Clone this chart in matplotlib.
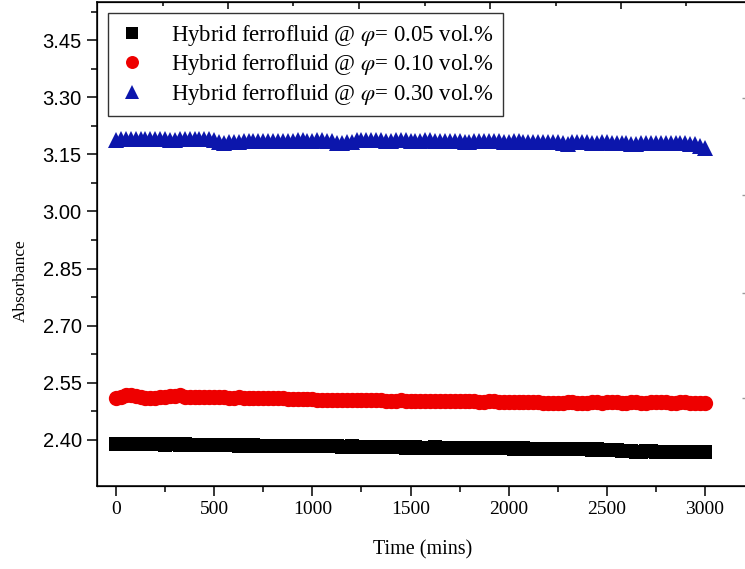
import matplotlib
matplotlib.use("Agg")
import matplotlib.pyplot as plt
import numpy as np

# time axis (mins), one reading every 25 mins
time_mins = np.arange(0, 3001, 25)

absorb_005 = [2.389, 2.389, 2.388, 2.389, 2.389, 2.388, 2.388, 2.389, 2.388, 2.388, 2.387,
              2.388, 2.388, 2.387, 2.388, 2.387, 2.387, 2.386, 2.387, 2.386, 2.387,
              2.386, 2.386, 2.386, 2.386, 2.385, 2.386, 2.385, 2.386, 2.385, 2.385,
              2.385, 2.384, 2.384, 2.385, 2.385, 2.384, 2.384, 2.384, 2.383, 2.384,
              2.383, 2.383, 2.384, 2.383, 2.383, 2.382, 2.382, 2.383, 2.382, 2.382,
              2.382, 2.382, 2.381, 2.381, 2.382, 2.381, 2.381, 2.381, 2.380, 2.381,
              2.381, 2.380, 2.380, 2.380, 2.381, 2.380, 2.379, 2.380, 2.379, 2.379,
              2.380, 2.379, 2.379, 2.378, 2.379, 2.379, 2.378, 2.378, 2.378, 2.378,
              2.377, 2.377, 2.378, 2.377, 2.377, 2.376, 2.376, 2.377, 2.376, 2.376,
              2.376, 2.375, 2.375, 2.376, 2.375, 2.375, 2.374, 2.375, 2.374, 2.374,
              2.374, 2.373, 2.372, 2.371, 2.370, 2.369, 2.369, 2.370, 2.370, 2.369,
              2.369, 2.369, 2.368, 2.369, 2.368, 2.368, 2.369, 2.368, 2.368, 2.368]

absorb_010 = [2.509, 2.513, 2.517, 2.518, 2.516, 2.514, 2.510, 2.510, 2.511, 2.512, 2.513,
              2.515, 2.516, 2.517, 2.514, 2.513, 2.512, 2.513, 2.513, 2.512, 2.512,
              2.512, 2.512, 2.511, 2.511, 2.512, 2.511, 2.511, 2.511, 2.511, 2.510,
              2.510, 2.511, 2.510, 2.509, 2.508, 2.508, 2.508, 2.507, 2.507, 2.507,
              2.506, 2.506, 2.505, 2.505, 2.506, 2.505, 2.505, 2.505, 2.504, 2.504,
              2.504, 2.505, 2.504, 2.504, 2.503, 2.503, 2.503, 2.504, 2.503, 2.503,
              2.503, 2.503, 2.502, 2.502, 2.503, 2.502, 2.502, 2.502, 2.502, 2.501,
              2.501, 2.501, 2.501, 2.500, 2.500, 2.501, 2.501, 2.500, 2.500, 2.500,
              2.499, 2.499, 2.500, 2.500, 2.499, 2.499, 2.498, 2.498, 2.498, 2.498,
              2.498, 2.499, 2.499, 2.498, 2.498, 2.498, 2.499, 2.499, 2.498, 2.499,
              2.499, 2.499, 2.498, 2.498, 2.499, 2.499, 2.498, 2.498, 2.499, 2.499,
              2.499, 2.499, 2.498, 2.498, 2.499, 2.499, 2.498, 2.498, 2.498, 2.498]

absorb_030 = [3.188, 3.189, 3.190, 3.191, 3.191, 3.190, 3.190, 3.191, 3.191, 3.190, 3.189,
              3.188, 3.188, 3.190, 3.190, 3.191, 3.191, 3.189, 3.189, 3.189, 3.188,
              3.182, 3.181, 3.182, 3.182, 3.183, 3.184, 3.185, 3.185, 3.186, 3.186,
              3.185, 3.185, 3.186, 3.186, 3.185, 3.185, 3.187, 3.187, 3.186, 3.186,
              3.187, 3.187, 3.186, 3.186, 3.181, 3.181, 3.182, 3.182, 3.187, 3.187,
              3.188, 3.188, 3.187, 3.187, 3.186, 3.186, 3.187, 3.187, 3.187, 3.186,
              3.186, 3.186, 3.187, 3.187, 3.186, 3.186, 3.185, 3.185, 3.184, 3.184,
              3.183, 3.183, 3.184, 3.184, 3.185, 3.185, 3.184, 3.184, 3.183, 3.183,
              3.184, 3.184, 3.183, 3.183, 3.182, 3.182, 3.183, 3.183, 3.183, 3.183,
              3.179, 3.178, 3.183, 3.183, 3.182, 3.182, 3.181, 3.181, 3.182, 3.182,
              3.181, 3.181, 3.180, 3.180, 3.178, 3.178, 3.180, 3.180, 3.181, 3.181,
              3.179, 3.179, 3.180, 3.180, 3.179, 3.179, 3.177, 3.177, 3.172, 3.167]

labels = ["Hybrid ferrofluid @ $\\varphi$= 0.05 vol.%",
          "Hybrid ferrofluid @ $\\varphi$= 0.10 vol.%",
          "Hybrid ferrofluid @ $\\varphi$= 0.30 vol.%"]

# odd tick marks along the top and right frame of the original figure
top_major = [570, 1238, 1905, 2572]
top_minor = [239, 901, 1574, 2241, 2903]
right_ticks = [3.298, 3.043, 2.786, 2.510]

plt.rcParams["font.family"] = "Liberation Serif"
plt.rcParams["mathtext.fontset"] = "stix"

fig = plt.figure(figsize=(7.45, 5.69), dpi=100)
ax = fig.add_axes([97 / 745, 83 / 569, 651 / 745, 484 / 569])

ax.plot(time_mins, absorb_005, ls="none", marker="s", ms=9.5, color="black", mew=0, label=labels[0])
ax.plot(time_mins, absorb_010, ls="none", marker="o", ms=11, color="#ee0000", mew=0, label=labels[1])
ax.plot(time_mins, absorb_030, ls="none", marker="^", ms=12, color="#0c16ac", mew=0, label=labels[2])

ax.set_xlim(-97, 3219)
ax.set_ylim(2.279, 3.55)
ax.set_xticks(np.arange(0, 3001, 500))
ax.set_xticks(np.arange(250, 3001, 500), minor=True)
ax.set_yticks(np.arange(2.40, 3.46, 0.15))
ax.set_yticks(np.arange(2.475, 3.55, 0.15), minor=True)
ax.set_yticklabels(["%.2f" % v for v in np.arange(2.40, 3.46, 0.15)],
                   family="Liberation Sans", fontsize=14.5)
ax.tick_params(axis="x", labelsize=14)
ax.tick_params(which="major", length=7, width=1.1, direction="out", pad=4)
ax.tick_params(which="minor", length=4, width=1.1, direction="out")
ax.tick_params(top=False, right=False)
for s in ax.spines.values():
    s.set_linewidth(1.1)

ax.set_xlabel("Time (mins)", fontsize=14.5)
ax.set_ylabel("Absorbance", fontsize=12.5)
ax.xaxis.set_label_coords(0.5, -0.112)
ax.yaxis.set_label_coords(-0.104, 0.4236)

ax_top = ax.twiny()
ax_top.set_xlim(ax.get_xlim())
ax_top.set_xticks(top_major)
ax_top.set_xticks(top_minor, minor=True)
ax_top.set_xticklabels([])
ax_top.tick_params(which="major", direction="in", length=5, width=1.1)
ax_top.tick_params(which="minor", direction="in", length=3, width=1.1)

ax_right = ax.twinx()
ax_right.set_ylim(ax.get_ylim())
ax_right.set_yticks(right_ticks)
ax_right.set_yticklabels([])
ax_right.tick_params(direction="in", length=4, width=1, color="#999999")

leg = ax.legend(loc="upper left", bbox_to_anchor=(0.0169, 0.977), borderaxespad=0,
                fontsize=16.4, frameon=True, fancybox=False, framealpha=1,
                edgecolor="#333333", handlelength=1.3, handletextpad=1.05,
                labelspacing=0.2, borderpad=0.42, numpoints=1, markerscale=0.85)
leg.get_frame().set_linewidth(1.0)

fig.savefig("out.png", dpi=100)
